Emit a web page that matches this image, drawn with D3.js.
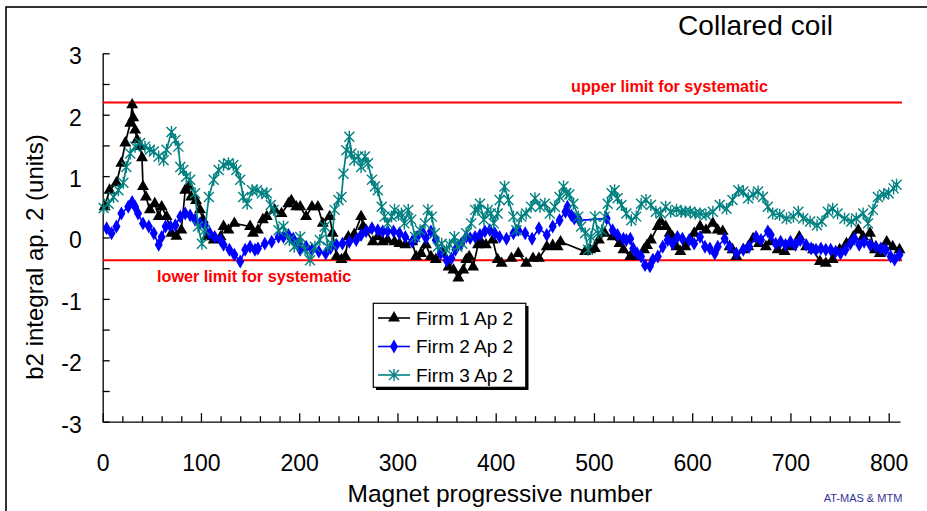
<!DOCTYPE html>
<html><head><meta charset="utf-8">
<script src="https://cdn.jsdelivr.net/npm/d3@7"></script>
<style>body{margin:0;background:#fff}svg{display:block;font-family:"Liberation Sans",Arial,sans-serif}</style>
</head><body>
<svg id="c" width="927" height="511"></svg>
<script>
const title = "Collared coil";
const xLabel = "Magnet progressive number";
const yLabel = "b2 integral ap. 2 (units)";
const credit = "AT-MAS & MTM";
const seriesNames = ["Firm 1 Ap 2", "Firm 2 Ap 2", "Firm 3 Ap 2"];
const upperLimit = 2.2, lowerLimit = -0.37;
const upperText = "upper limit for systematic", lowerText = "lower limit for systematic";
const xTicks = [0,100,200,300,400,500,600,700,800];
const yTicks = [-3,-2,-1,0,1,2,3];

const firm1X = [2,7,14,19,23,28,30,31,33,35,38,40,41,44,48,53,57,60,65,70,75,80,84,87,90,95,99,102,106,113,120,123,128,134,150,153,158,163,167,175,182,189,192,197,201,207,213,219,224,231,234,238,243,247,250,256,263,265,268,275,280,285,290,297,302,308,315,319,324,329,334,339,346,352,357,362,367,370,373,377,382,385,390,397,402,406,416,423,431,438,444,452,458,463,466,491,496,501,505,511,519,526,530,537,544,551,554,558,565,568,573,577,580,584,588,593,598,602,608,614,621,626,631,638,641,645,652,657,662,668,675,680,687,694,701,709,716,723,730,736,743,750,757,764,769,774,781,786,791,798,804,811];
const firm1Y = [0.5,0.77,0.89,1.21,1.54,1.86,2.16,1.95,1.75,1.59,1.48,1.3,0.83,0.66,0.45,0.55,0.34,0.5,0.34,0.07,0.02,0.12,0.77,0.83,0.66,0.6,0.45,0.29,0.01,-0.04,0.01,0.18,0.12,0.23,0.18,0.07,0.12,0.29,0.34,0.45,0.39,0.55,0.6,0.5,0.5,0.34,0.5,0.5,0.23,0.34,0.07,-0.31,-0.36,-0.31,0.01,0.05,0.34,0.18,0.12,-0.07,0.01,-0.07,-0.04,-0.07,-0.1,-0.12,-0.07,-0.31,-0.26,-0.12,-0.31,-0.36,-0.26,-0.48,-0.53,-0.66,-0.53,-0.36,-0.31,-0.48,-0.12,-0.07,-0.12,-0.04,-0.36,-0.42,-0.34,-0.26,-0.42,-0.34,-0.34,-0.15,-0.13,-0.15,-0.07,-0.23,-0.2,-0.18,-0.04,0.07,0.01,-0.1,-0.2,-0.31,-0.31,-0.2,-0.13,-0.04,0.18,0.26,0.18,0.07,0.01,-0.15,-0.23,-0.15,-0.04,0.07,0.18,0.12,0.23,0.12,0.1,-0.15,-0.2,-0.31,-0.2,-0.15,-0.02,-0.1,-0.15,-0.07,-0.2,-0.23,-0.15,0.01,-0.15,-0.2,-0.39,-0.42,-0.36,-0.2,-0.1,0.01,0.12,0.01,0.07,-0.2,-0.26,-0.07,-0.15,-0.2];

const firm2X = [4,9,14,19,26,30,33,36,41,47,52,57,60,64,69,74,79,84,89,94,99,104,109,114,120,123,129,134,140,145,150,155,158,165,172,179,184,189,194,199,201,207,213,220,227,232,238,244,251,258,263,268,274,280,285,290,296,302,308,315,320,325,329,334,339,344,350,355,359,365,370,374,379,384,389,394,399,404,411,418,423,430,437,444,452,458,465,471,473,477,480,485,513,519,524,530,533,537,540,544,548,552,557,560,565,570,575,580,585,590,597,602,608,613,618,623,626,633,638,645,652,658,665,670,677,680,685,690,695,700,705,710,716,721,726,731,736,741,746,751,756,761,765,770,775,781,787,792,797,802,806,811];
const firm2Y = [0.15,0.07,0.18,0.39,0.5,0.58,0.5,0.39,0.23,0.18,0.07,-0.12,0.01,0.18,0.18,0.2,0.34,0.39,0.36,0.29,0.23,0.2,0.07,0.01,-0.04,-0.12,-0.2,-0.28,-0.39,-0.2,-0.15,-0.2,-0.18,-0.1,-0.07,0.01,0.01,0.04,-0.02,-0.1,-0.2,-0.15,-0.2,-0.23,-0.26,-0.17,-0.12,-0.1,-0.07,-0.04,0.04,0.1,0.15,0.12,0.1,0.1,0.1,0.07,0.01,-0.07,0.01,0.1,-0.01,0.1,-0.04,-0.26,-0.37,-0.34,-0.2,-0.1,0.01,-0.01,0.01,0.04,0.1,0.12,0.07,0.01,-0.02,0.07,0.12,0.07,-0.02,0.15,0.04,0.18,0.28,0.42,0.5,0.36,0.31,0.28,0.31,0.12,0.04,-0.02,-0.04,-0.02,-0.18,-0.26,-0.31,-0.45,-0.47,-0.36,-0.31,-0.15,-0.04,-0.1,0.01,-0.02,-0.04,-0.1,0.01,-0.15,-0.18,-0.26,-0.15,-0.02,-0.15,-0.26,-0.2,-0.15,0.01,-0.04,0.1,0.04,-0.1,-0.07,-0.12,-0.07,-0.12,-0.04,-0.12,-0.18,-0.2,-0.18,-0.2,-0.2,-0.23,-0.26,-0.2,-0.1,-0.02,-0.12,-0.07,-0.12,-0.15,-0.18,-0.2,-0.31,-0.36,-0.28];

const firm3X = [1,6,11,16,21,24,28,33,38,43,48,52,57,62,65,70,74,77,79,82,85,89,94,97,101,104,108,113,118,123,128,133,136,140,143,147,152,157,162,167,171,174,179,184,190,195,199,201,206,211,216,221,226,229,233,236,240,243,245,248,251,253,256,260,263,267,270,274,277,280,284,287,290,294,297,301,304,307,311,314,318,323,328,331,335,338,341,345,350,353,358,361,366,370,375,379,382,384,388,392,395,398,402,404,409,413,418,421,426,431,436,440,445,450,455,460,465,469,472,475,479,484,487,491,494,497,501,504,508,511,514,518,521,524,528,533,538,543,548,553,558,563,568,573,578,584,589,593,598,603,608,614,621,628,635,641,647,652,657,662,667,672,677,682,689,696,703,708,713,720,727,732,738,743,748,755,762,767,774,779,784,789,795,800,805,808];
const firm3Y = [0.48,0.55,0.66,0.77,0.89,1.15,1.37,1.48,1.54,1.48,1.43,1.4,1.32,1.26,1.43,1.72,1.59,1.48,1.15,1.1,0.99,0.94,0.72,0.18,-0.1,0.12,0.66,0.94,1.1,1.18,1.21,1.18,1.1,0.94,0.66,0.55,0.77,0.77,0.72,0.72,0.53,0.45,0.12,0.18,-0.04,-0.15,-0.1,0.01,-0.2,-0.37,-0.15,-0.04,0.18,-0.15,-0.1,0.45,0.61,0.66,1.04,1.42,1.64,1.37,1.26,1.32,1.15,1.32,1.21,0.94,0.83,0.77,0.5,0.34,0.23,0.34,0.45,0.37,0.39,0.23,0.45,0.29,0.01,0.12,0.23,0.45,0.34,0.07,-0.15,-0.1,-0.2,-0.12,0.01,-0.15,-0.1,0.07,0.23,0.45,0.45,0.55,0.29,0.45,0.39,0.23,0.39,0.61,0.83,0.61,0.34,0.12,0.34,0.39,0.5,0.64,0.5,0.55,0.39,0.5,0.66,0.83,0.72,0.7,0.55,0.34,0.18,0.07,-0.2,0.01,0.34,0.07,0.12,0.34,0.55,0.72,0.77,0.64,0.53,0.39,0.28,0.34,0.55,0.61,0.53,0.42,0.39,0.5,0.42,0.45,0.42,0.42,0.42,0.39,0.39,0.37,0.42,0.53,0.47,0.61,0.77,0.75,0.64,0.7,0.75,0.66,0.5,0.39,0.37,0.31,0.34,0.42,0.31,0.26,0.2,0.26,0.42,0.47,0.39,0.31,0.26,0.31,0.39,0.23,0.45,0.66,0.7,0.72,0.8,0.86];

const svg = d3.select("#c");
svg.append("rect").attr("width",927).attr("height",511).attr("fill","#fff");
svg.append("rect").attr("x",6).attr("y",7).attr("width",940).attr("height",520)
  .attr("fill","none").attr("stroke","#000").attr("stroke-width",1.6);

const x = d3.scaleLinear().domain([0, 811.5]).range([102.7, 900]);
const y = d3.scaleLinear().domain([-3, 3]).range([421.7, 53.3]);
const fmt = d => String(d);

// axes
const gY = svg.append("g").attr("transform","translate(102.7,0)")
  .call(d3.axisLeft(y).tickValues(d3.range(-3, 3.01, 0.5)).tickSize(-7).tickSizeOuter(0).tickFormat(""));
const gX = svg.append("g").attr("transform","translate(0,421.7)")
  .call(d3.axisBottom(x).tickValues(d3.range(0, 801, 20)).tickSize(-5.5).tickSizeOuter(0).tickFormat(""));
gX.selectAll(".tick line").filter(d => d % 100 === 0).attr("y2", -8.5);
[gX, gY].forEach(g => { g.selectAll("path,line").attr("stroke","#000").attr("stroke-width",1.3); });

const gYL = svg.append("g").attr("transform","translate(102.7,0)")
  .call(d3.axisLeft(y).tickValues(yTicks).tickSize(0).tickPadding(21).tickFormat(fmt));
gYL.select(".domain").remove();
gYL.selectAll("text").attr("font-size",23).attr("fill","#000").attr("font-family","Liberation Sans, Arial").attr("dy","0.45em");
const gXL = svg.append("g").attr("transform","translate(0,421.7)")
  .call(d3.axisBottom(x).tickValues(xTicks).tickSize(0).tickPadding(33).tickFormat(fmt));
gXL.select(".domain").remove();
gXL.selectAll("text").attr("font-size",23).attr("fill","#000").attr("font-family","Liberation Sans, Arial");

// limit lines
[[upperLimit],[lowerLimit]].forEach(([v]) => {
  svg.append("line").attr("x1", x(0)).attr("x2", 902).attr("y1", y(v)).attr("y2", y(v))
    .attr("stroke","#ff0000").attr("stroke-width",2);
});
svg.append("text").attr("x",571).attr("y",92).attr("font-size",16.2).attr("font-weight","bold").attr("fill","#ff0000").text(upperText);
svg.append("text").attr("x",157).attr("y",282).attr("font-size",16.2).attr("font-weight","bold").attr("fill","#ff0000").text(lowerText);

// series
const line = d3.line().x(d => x(d[0])).y(d => y(d[1]));
const starPath = "M-5,-5L5,5M-5,5L5,-5M0,-6L0,6";
const series = [
  {name: seriesNames[0], xs: firm1X, ys: firm1Y, color: "#000000", marker: "tri"},
  {name: seriesNames[1], xs: firm2X, ys: firm2Y, color: "#0000ff", marker: "dia"},
  {name: seriesNames[2], xs: firm3X, ys: firm3Y, color: "#008080", marker: "star"}
];
function drawMarker(g, kind, color) {
  if (kind === "tri") g.append("path").attr("d", d3.symbol(d3.symbolTriangle, 62)()).attr("fill", color);
  else if (kind === "dia") g.append("path").attr("d", d3.symbol(d3.symbolDiamond, 56)()).attr("fill", color);
  else g.append("path").attr("d", starPath).attr("stroke", color).attr("stroke-width", 1.4).attr("fill","none");
}
series.forEach(s => {
  const pts = s.xs.map((v, i) => [v, s.ys[i]]);
  svg.append("path").datum(pts).attr("d", line).attr("fill","none").attr("stroke", s.color).attr("stroke-width",1.7);
  const g = svg.append("g");
  pts.forEach(p => {
    const m = g.append("g").attr("transform", `translate(${x(p[0])},${y(p[1])})`);
    drawMarker(m, s.marker, s.color);
  });
});

// legend
const lg = svg.append("g");
lg.append("rect").attr("x",376).attr("y",306).attr("width",152.5).attr("height",84).attr("fill","#000");
lg.append("rect").attr("x",373.3).attr("y",303.3).attr("width",152.5).attr("height",84).attr("fill","#fff").attr("stroke","#000").attr("stroke-width",1.2);
series.forEach((s, i) => {
  const yy = 318 + i * 28.5;
  lg.append("line").attr("x1",378).attr("x2",410).attr("y1",yy).attr("y2",yy).attr("stroke", s.color).attr("stroke-width",1.6);
  drawMarker(lg.append("g").attr("transform",`translate(394,${yy})`), s.marker, s.color);
  lg.append("text").attr("x",416).attr("y",yy + 6.5).attr("font-size",19).attr("fill","#000").text(s.name);
});

// titles
svg.append("text").attr("x",678).attr("y",35).attr("font-size",28).attr("fill","#000").attr("textLength",155).text(title);
svg.append("text").attr("x",500).attr("y",502).attr("text-anchor","middle").attr("font-size",24.5).attr("fill","#000").text(xLabel);
svg.append("text").attr("transform","translate(43,257) rotate(-90)").attr("text-anchor","middle").attr("font-size",24).attr("fill","#000").text(yLabel);
svg.append("text").attr("x",863).attr("y",502).attr("text-anchor","middle").attr("font-size",11).attr("fill","#333399").text(credit);
</script>
</body></html>
